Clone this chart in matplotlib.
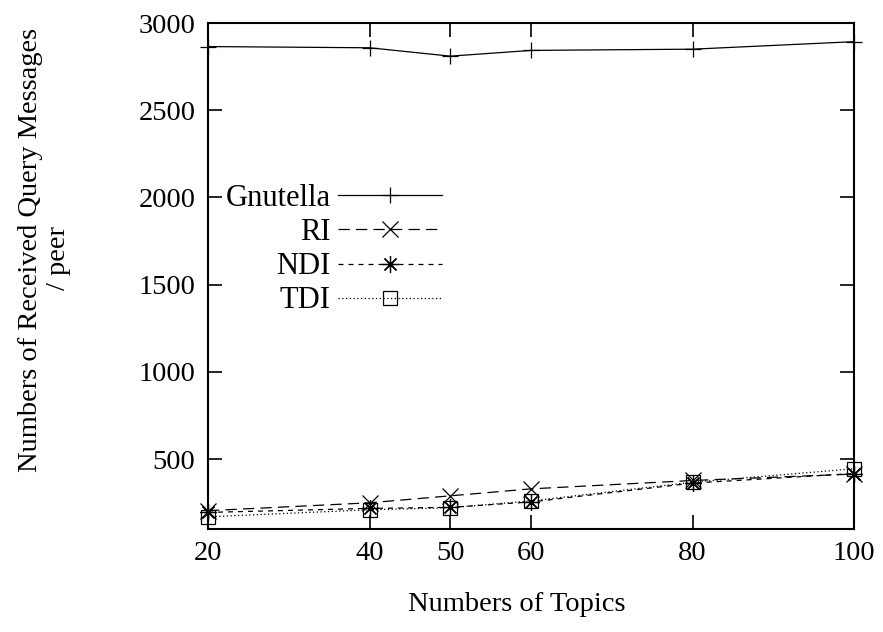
import matplotlib
matplotlib.use("Agg")
import matplotlib.pyplot as plt

# number of topics on the x axis
topics = [20, 40, 50, 60, 80, 100]

# received query messages per peer
gnutella = [2865, 2858, 2810, 2843, 2850, 2893]
ri = [205, 250, 290, 330, 378, 415]
ndi = [195, 218, 224, 255, 363, 418]
tdi = [170, 210, 222, 261, 368, 445]

x_ticks = [20, 40, 50, 60, 80, 100]
y_ticks = [500, 1000, 1500, 2000, 2500, 3000]

plt.rcParams["font.family"] = ["Liberation Serif", "DejaVu Serif"]
plt.rcParams["font.size"] = 20.5

fig = plt.figure(figsize=(8.83, 6.32), dpi=100)
ax = fig.add_axes([0.2356, 0.163, 0.7316, 0.8006])

ax.plot(topics, gnutella, color="black", lw=0.9, ls="-", marker="+", ms=12,
        mew=0.9, label="Gnutella", clip_on=False)
ax.plot(topics, ri, color="black", lw=0.9, ls=(0, (9, 5)), marker="x", ms=11,
        mew=0.9, label="RI", clip_on=False)
ax.plot(topics, ndi, color="black", lw=0.9, ls=(0, (4, 4)), marker=(8, 2, 0),
        ms=12, mew=0.9, label="NDI", clip_on=False)
ax.plot(topics, tdi, color="black", lw=0.9, ls=(0, (1, 2)), marker="s", ms=10,
        mfc="none", mew=0.9, label="TDI", clip_on=False)

ax.set_xlim(20, 100)
ax.set_ylim(100, 3000)
ax.set_xticks(x_ticks)
ax.set_yticks(y_ticks)
ax.tick_params(direction="in", length=10, width=1.2, top=True, right=True,
               pad=9)
for side in ax.spines.values():
    side.set_linewidth(1.5)

ax.set_xlabel("Numbers of Topics")
ax.xaxis.set_label_coords(0.478, -0.125)

# two-line y label, second line sits a bit lower than the first
fig.text(0.0351, 0.6044, "Numbers of Received Query Messages",
         rotation=90, ha="center", va="center")
fig.text(0.0657, 0.5918, "/ peer", rotation=90, ha="center", va="center")

ax.legend(loc="upper left", bbox_to_anchor=(0.027, 0.682), frameon=False,
          markerfirst=False, alignment="right", handlelength=3.43,
          handletextpad=0.23, labelspacing=0.17, borderpad=0,
          borderaxespad=0, fontsize=22)

fig.savefig("out.png", dpi=100)
